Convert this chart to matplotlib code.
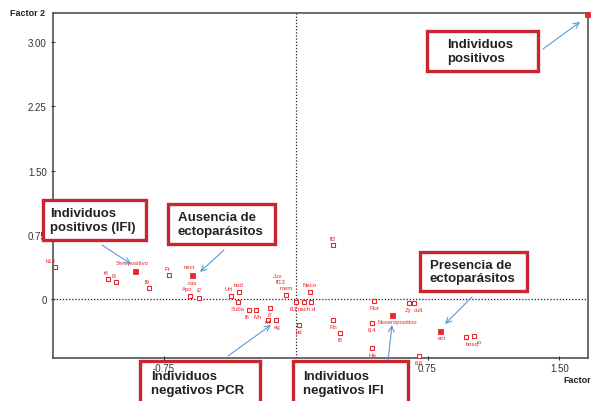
import matplotlib
matplotlib.use("Agg")
import matplotlib.pyplot as plt
from matplotlib.patches import Rectangle

plt.rcParams['font.family'] = ['Liberation Sans', 'DejaVu Sans']

# ---- data ----
labels = ["po", "b14", "Seropositivo", "t6", "t3", "Fr", "f9", "nect", "cas", "Apo", "t2",
          "Urt", "bod", "Suba", "f6", "Mn", "f7", "mi", "eg", "Juv", "ff13", "mem",
          "f11", "nach", "d", "Neco", "pd", "ff2", "Rn", "t5", "Rur", "f14", "Ha",
          "Noseropositivo", "Zy", "cult", "f16", "ect", "bosq", "ro"]
factor1 = [1.656, -1.366, -0.912, -1.065, -1.020, -0.719, -0.832, -0.588, -0.600, -0.600, -0.548,
           -0.366, -0.321, -0.327, -0.264, -0.224, -0.145, -0.156, -0.111, -0.054, -0.054, -0.054,
           0.000, 0.048, 0.088, 0.082, 0.020, 0.213, 0.213, 0.253, 0.446, 0.435, 0.435,
           0.548, 0.645, 0.673, 0.702, 0.821, 0.969, 1.014]
factor2 = [3.330, 0.373, 0.327, 0.233, 0.198, 0.280, 0.128, 0.280, 0.035, 0.035, 0.012,
           0.035, 0.082, -0.035, -0.128, -0.128, -0.105, -0.245, -0.245, 0.047, 0.047, 0.047,
           -0.035, -0.035, -0.035, 0.082, -0.300, 0.630, -0.245, -0.397, -0.023, -0.280, -0.572,
           -0.187, -0.047, -0.047, -0.665, -0.373, -0.443, -0.432]
filled = ["po", "Seropositivo", "nect", "Noseropositivo", "ect"]
hidden_marker = ["cas", "ff13", "Juv"]

xticks = [-0.75, 0.75, 1.50]
xticklabels = ["-0.75", "0.75", "1.50"]
yticks = [0, 0.75, 1.50, 2.25, 3.00]
yticklabels = ["0", "0.75", "1.50", "2.25", "3.00"]

# label offsets in points (style)
offsets = {
    "po": (5, 1, 'left'), "b14": (-3, 5, 'center'), "Seropositivo": (-2, 6, 'center'),
    "t6": (-1, 5, 'center'), "t3": (-1, 5, 'center'), "Fr": (-1, 5, 'center'),
    "f9": (-1, 5, 'center'), "nect": (-2, 6, 'center'), "cas": (2, 10, 'center'),
    "Apo": (-2, 5, 'center'), "t2": (0, 6, 'center'), "Urt": (-2, 5, 'center'),
    "bod": (0, 5, 'center'), "Suba": (0, -5, 'center'), "f6": (-1, -5, 'center'),
    "Mn": (1, -5, 'center'), "f7": (0, -5, 'center'), "mi": (0, -1, 'center'),
    "eg": (1, -5, 'center'), "Juv": (-6, 14, 'center'), "ff13": (-4, 10, 'center'),
    "mem": (0, 5, 'center'), "f11": (-1, -5, 'center'), "nach": (0, -5, 'center'),
    "d": (2, -5, 'center'), "Neco": (0, 5, 'center'), "pd": (0, -5, 'center'),
    "ff2": (0, 5, 'center'), "Rn": (0, -5, 'center'), "t5": (0, -5, 'center'),
    "Rur": (0, -5, 'center'), "f14": (0, -5, 'center'), "Ha": (0, -5, 'center'),
    "Noseropositivo": (4, -5, 'center'), "Zy": (-1, -5, 'center'), "cult": (3, -5, 'center'),
    "f16": (0, -5, 'center'), "ect": (1, -5, 'center'), "bosq": (4, -5, 'center'),
    "ro": (4, -4, 'center'),
}

red = "#e8262b"

fig = plt.figure(figsize=(5.91, 4.02), dpi=100)
ax = fig.add_axes([53 / 591, 1 - 359 / 402, (588 - 53) / 591, (359 - 14) / 402])
ax.set_xlim(-1.378, 1.662)
ax.set_ylim(-0.69, 3.34)

ax.axhline(0, color='#222222', ls=(0, (1, 1.5)), lw=0.9, zorder=1)
ax.axvline(0, color='#222222', ls=(0, (1, 1.5)), lw=0.9, zorder=1)

for lab, x, y in zip(labels, factor1, factor2):
    if lab not in hidden_marker:
        if lab in filled:
            ax.plot(x, y, marker='s', ms=3.6, mfc=red, mec=red, mew=0.6, ls='none',
                    clip_on=False, zorder=3)
        else:
            ax.plot(x, y, marker='s', ms=3.0, mfc='white', mec=red, mew=0.8, ls='none',
                    clip_on=False, zorder=3)
    dx, dy, ha = offsets[lab]
    ax.annotate(lab, (x, y), xytext=(dx, dy), textcoords='offset points', ha=ha,
                va='center', fontsize=4.3, color=red, annotation_clip=False, zorder=4)

ax.set_xticks(xticks)
ax.set_xticklabels(xticklabels)
ax.set_yticks(yticks)
ax.set_yticklabels(yticklabels)
ax.tick_params(axis='both', labelsize=7, colors='#333333', length=3, width=0.8,
               direction='inout', pad=2)
ax.tick_params(axis='y', pad=3)
ax.xaxis.set_zorder(12)
for s in ax.spines.values():
    s.set_color('#444444')
    s.set_linewidth(1.1)

fig.text(45 / 591, 1 - 14 / 402, "Factor 2", ha='right', va='center', fontsize=6.5,
         fontweight='bold', color='#222222')
fig.text(563 / 591, 1 - 381 / 402, "Factor1", ha='left', va='center', fontsize=6.5,
         fontweight='bold', color='#222222')

# annotation boxes (figure pixel layout)
boxes = [
    ((427, 32, 538, 72), 447, "Individuos\npositivos"),
    ((43, 201, 146, 241), 50, "Individuos\npositivos (IFI)"),
    ((168, 205, 275, 245), 178, "Ausencia de\nectoparásitos"),
    ((420, 253, 527, 292), 430, "Presencia de\nectoparásitos"),
    ((140, 362, 260, 412), 151, "Individuos\nnegativos PCR"),
    ((293, 362, 408, 412), 303, "Individuos\nnegativos IFI"),
]
for (x0, y0, x1, y1), tx, txt in boxes:
    r = Rectangle((x0 / 591, 1 - y1 / 402), (x1 - x0) / 591, (y1 - y0) / 402,
                  transform=fig.transFigure, fill=True, facecolor='white',
                  edgecolor='#c8262e', lw=2.4, zorder=10, clip_on=False)
    ax.add_artist(r)
    cy = (y0 + y1) / 2 if y1 <= 402 else y0 + 22
    ax.text(tx / 591, 1 - cy / 402, txt, transform=fig.transFigure, ha='left',
            va='center', fontsize=9.5, fontweight='bold', color='#222222',
            linespacing=1.15, zorder=11, clip_on=False)

arrows = [((543, 50), (580, 23)), ((102, 246), (131, 265)), ((224, 251), (200, 273)),
          ((472, 298), (445, 325)), ((228, 357), (271, 326)), ((388, 362), (392, 326))]
for (sx, sy), (ex, ey) in arrows:
    ax.annotate("", xy=(ex, 402 - ey), xytext=(sx, 402 - sy), xycoords='figure pixels',
                textcoords='figure pixels', annotation_clip=False,
                arrowprops=dict(arrowstyle='->', color='#5b9bd5', lw=0.8,
                                shrinkA=0, shrinkB=0), zorder=9)

fig.savefig("out.png", dpi=100)
